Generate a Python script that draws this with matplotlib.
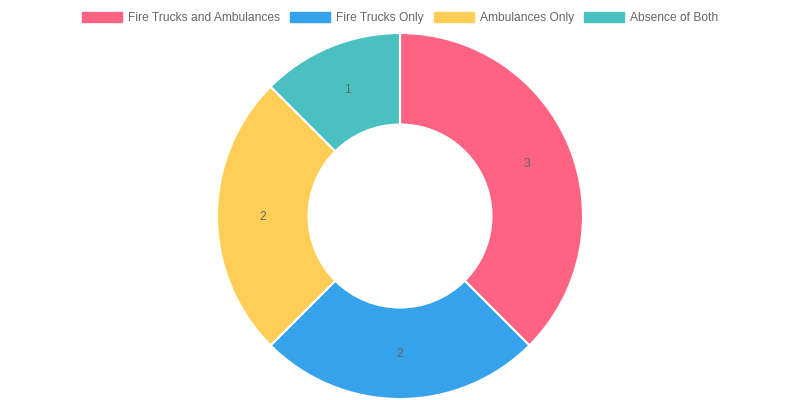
import matplotlib
matplotlib.use("Agg")
import matplotlib.pyplot as plt

categories = ["Fire Trucks and Ambulances", "Fire Trucks Only", "Ambulances Only", "Absence of Both"]
values = [3, 2, 2, 1]
colors = ["#FF6384", "#36A2EB", "#FFCE56", "#4BC0C0"]

plt.rcParams['font.family'] = ['Liberation Sans', 'DejaVu Sans']
W, H = 800, 400
fig = plt.figure(figsize=(8, 4), dpi=100)
ax = fig.add_axes([0, 0, 1, 1])
ax.set_xlim(0, W)
ax.set_ylim(0, H)
ax.set_aspect('equal')
ax.axis('off')

cx, cy = 400, H - 216
R = 183
wedges, texts = ax.pie(values, colors=colors, startangle=90, counterclock=False,
                       center=(cx, cy), radius=R, frame=True,
                       labels=[str(v) for v in values], labeldistance=0.75,
                       wedgeprops=dict(width=R * 0.5, edgecolor='white', linewidth=1.5),
                       textprops=dict(color='#666666', fontsize=8.64))
for t in texts:
    t.set_ha('center'); t.set_va('center')
    px, py = t.get_position()
    t.set_position((px, py - 1))
ax.set_xlim(0, W)
ax.set_ylim(0, H)
ax.axis('off')

# legend
fs = 8.64
renderer = fig.canvas.get_renderer()
widths = []
for c in categories:
    t = fig.text(0, 0, c, fontsize=fs)
    bb = t.get_window_extent(renderer)
    widths.append(bb.width)
    t.remove()
boxw, gap, pad = 40, 6, 10
total = sum(boxw + gap + w for w in widths) + pad * (len(widths) - 1)
x = (W - total) / 2
ly = H - 16.5
for c, col, w in zip(categories, colors, widths):
    ax.add_patch(plt.Rectangle((x, ly - 5), boxw, 10, facecolor=col, edgecolor=col, lw=1))
    ax.text(x + boxw + gap, ly - 4.3, c, fontsize=fs, color='#666666', ha='left', va='baseline')
    x += boxw + gap + w + pad

fig.savefig("out.png", dpi=100)
